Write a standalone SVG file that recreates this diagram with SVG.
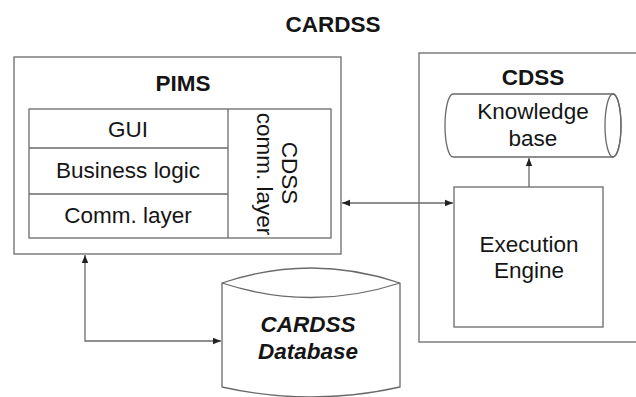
<svg xmlns="http://www.w3.org/2000/svg" width="636" height="397" viewBox="0 0 636 397">
  <style>
    .box { fill: #fff; stroke: #6a6a6a; stroke-width: 1.3; }
    .ln { fill: none; stroke: #6a6a6a; stroke-width: 1.3; }
    .t { font-family: "Liberation Sans", Arial, sans-serif; font-size: 22.5px; fill: #151515; text-anchor: middle; }
    .b { font-weight: bold; }
    .bi { font-weight: bold; font-style: italic; }
  </style>
  <defs>
    <marker id="ah" viewBox="0 0 8 8" refX="8" refY="4" markerWidth="8" markerHeight="8" markerUnits="userSpaceOnUse" orient="auto-start-reverse">
      <path d="M0,0.8 L8,4 L0,7.2 Z" fill="#222"/>
    </marker>
  </defs>
  <rect width="636" height="397" fill="#fff"/>

  <text class="t b" x="333" y="32" font-size="24">CARDSS</text>

  <!-- PIMS -->
  <g id="pims">
    <rect class="box" x="14" y="57" width="327" height="197"/>
    <text class="t b" x="183" y="91">PIMS</text>
    <rect class="box" x="29" y="109" width="302" height="129"/>
    <line class="ln" x1="228" y1="109" x2="228" y2="238"/>
    <line class="ln" x1="29" y1="148" x2="228" y2="148"/>
    <line class="ln" x1="29" y1="194" x2="228" y2="194"/>
    <text class="t" x="128" y="137">GUI</text>
    <text class="t" x="128" y="178">Business logic</text>
    <text class="t" x="128" y="223">Comm. layer</text>
    <text class="t" transform="translate(282,173) rotate(90)">CDSS</text>
    <text class="t" transform="translate(257,174) rotate(90)">comm. layer</text>
  </g>

  <!-- CDSS -->
  <g id="cdss">
    <rect class="box" x="419" y="53" width="230" height="289"/>
    <text class="t b" x="533" y="85">CDSS</text>
  </g>

  <g id="knowledge-base">
    <path class="box" d="M453,94 L613,94 A8,31.5 0 0 1 613,157 L453,157 A8,31.5 0 0 1 453,94 Z"/>
    <ellipse class="ln" cx="613" cy="125.5" rx="8" ry="31.5"/>
    <text class="t" x="533" y="119">Knowledge</text>
    <text class="t" x="533" y="146">base</text>
  </g>

  <g id="execution-engine">
    <rect class="box" x="454" y="187" width="149" height="140"/>
    <text class="t" x="529" y="252">Execution</text>
    <text class="t" x="529" y="278">Engine</text>
  </g>

  <g id="cardss-database">
    <path class="box" d="M222,283 Q311,253 400,283 L400,387 Q311,407 222,387 Z"/>
    <path class="ln" d="M222,283 Q311,312 400,283"/>
    <text class="t bi" x="308" y="332">CARDSS</text>
    <text class="t bi" x="308" y="359">Database</text>
  </g>

  <!-- connectors -->
  <g id="connectors">
    <line class="ln" x1="342" y1="203" x2="453" y2="203" marker-start="url(#ah)" marker-end="url(#ah)"/>
    <line class="ln" x1="529" y1="187" x2="529" y2="158" marker-end="url(#ah)"/>
    <polyline class="ln" points="85,255 85,341 221,341" marker-start="url(#ah)" marker-end="url(#ah)"/>
  </g>
</svg>
